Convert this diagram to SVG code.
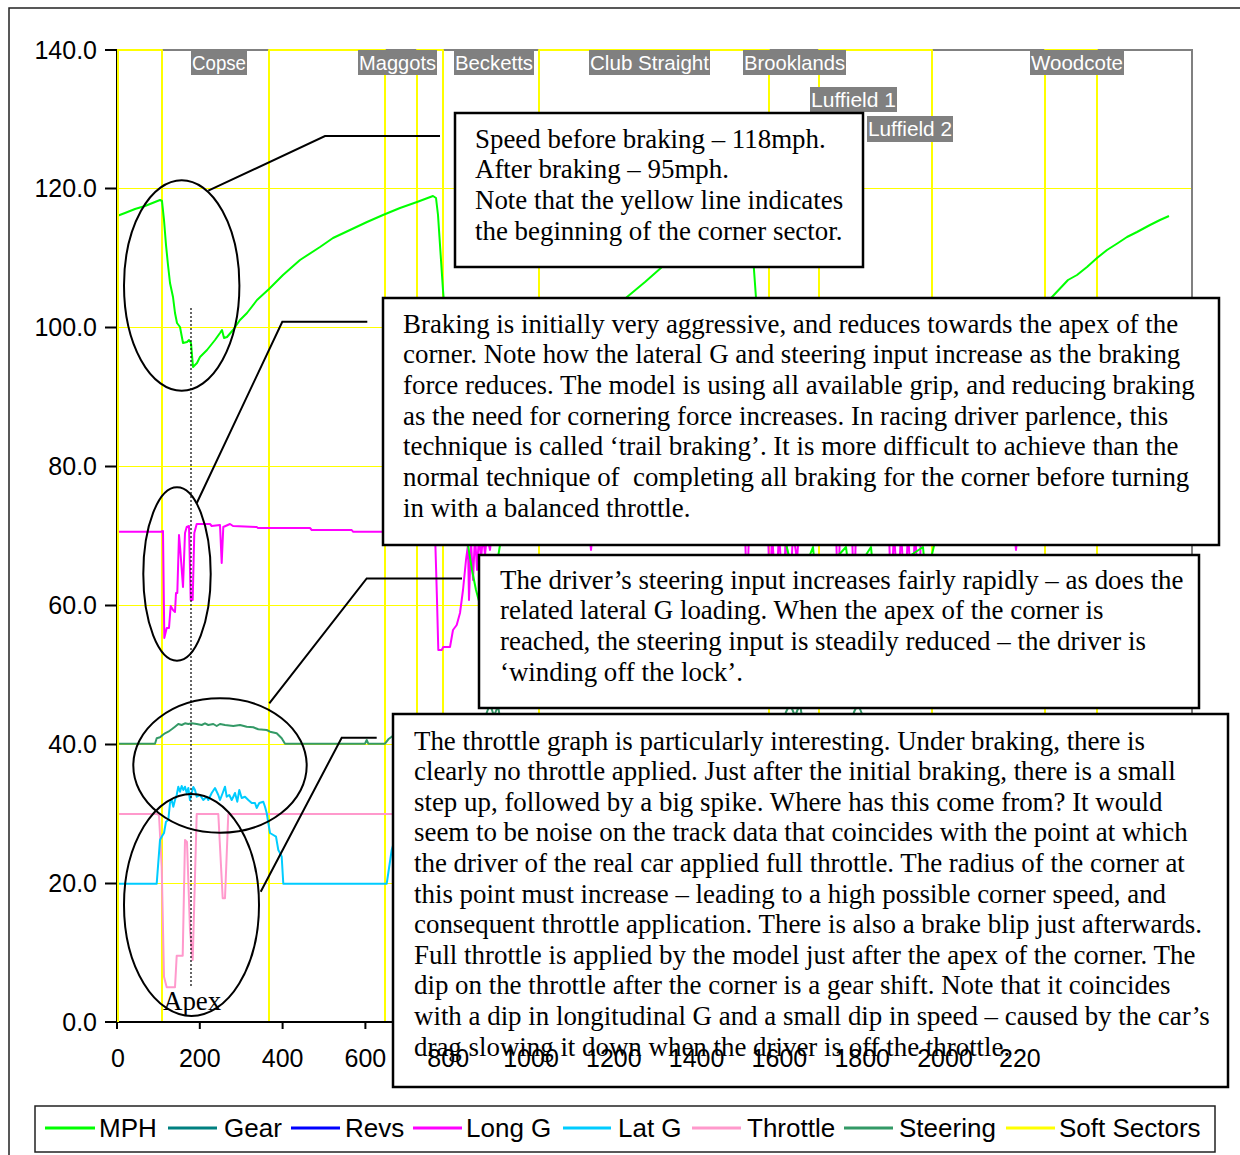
<svg xmlns="http://www.w3.org/2000/svg" width="1240" height="1155" viewBox="0 0 1240 1155">
<style>
.ax{font-family:"Liberation Sans",Arial,sans-serif;font-size:25px;fill:#000}
.lg{font-family:"Liberation Sans",Arial,sans-serif;font-size:26px;fill:#000}
.tb{font-family:"Liberation Serif","Times New Roman",serif;font-size:26.9px;fill:#000}
.lab{font-family:"Liberation Sans",Arial,sans-serif;font-size:21px;fill:#fff}
.grid{stroke:#ffff00;stroke-width:1;fill:none}
.ser{fill:none;stroke-width:2;stroke-linejoin:round}
.call{fill:none;stroke:#000;stroke-width:2}
.box{fill:#fff;stroke:#000;stroke-width:2.5}
.lbox{fill:#808080}
</style>
<rect x="0" y="0" width="1240" height="1155" fill="#fff"/>
<rect x="9" y="8" width="1250" height="1170" fill="none" stroke="#222" stroke-width="1.5"/>

<g id="plot">
<g id="gridlines">
<line class="grid" x1="117" y1="188.5" x2="1192" y2="188.5"/>
<line class="grid" x1="117" y1="327.5" x2="1192" y2="327.5"/>
<line class="grid" x1="117" y1="466.5" x2="1192" y2="466.5"/>
<line class="grid" x1="117" y1="605.5" x2="1192" y2="605.5"/>
<line class="grid" x1="117" y1="744.5" x2="1192" y2="744.5"/>
<line class="grid" x1="117" y1="883.5" x2="1192" y2="883.5"/>
</g>
<path d="M117 50 H1192 V1022" fill="none" stroke="#808080" stroke-width="2"/>
<path id="softsectors" class="ser" stroke="#ffff00" stroke-width="2.5" stroke-linejoin="miter" d="M117 1022 V50 H162 V1022 H269 V50 H385 V1022 H417 V50 H443 V1022 H539 V50 H769 V1022 H819 V50 H932 V1022 H1045 V50 H1097 V1022 H1192"/>
<path id="throttle" class="ser" stroke="#ff99cc" d="M118 814 H157 L159 815 L161.7 866.7 L164 976.7 L166.7 987.3 H175 L176.7 955.7 H182.7 L185 840 L187 842 L190 930 L192.7 960 L196.7 814 H218.3 L222.7 898.3 H225 L228.3 814 H400"/>
<path id="steering" class="ser" stroke="#339966" d="M118 743.7 H155 L156.7 738.3 L160 737.3 L162.7 735 L165 733.3 L168.3 731.7 L171.7 729.3 L175 726.7 L178.3 724 L181.7 725 L185 723.3 L188.3 724 L191.7 723.3 L196.7 724 L201.7 725 L205 723.3 L208.3 725 L213.3 724 L216.7 726 L220 724 L225 725 L233.3 726 L240 725 L246.7 726.7 L253.3 727.3 L258.3 729.3 L266.7 730 L270 731.7 L276.7 733.3 L281.7 738.3 L285 743.7 H365 L366.7 740 L368.3 743.7 H385 L388.3 739.3 L391.7 736.7 L400 733 L480 730 L487 712 L490 704 L494 716 L498 706 L502 730 L780 730 L786 712 L790 704 L795 716 L800 704 L804 730 L850 730 L854 712 L858 704 L862 714 L866 730 H1000"/>
<path id="latg" class="ser" stroke="#00ccff" d="M118 883.7 H156.7 L160 840 L161.7 836.7 L164 833 L166 821.7 L168.3 820 L170 803 L171.7 800 L173.3 806.7 L175 800 L176.7 795 L178.3 786.7 L180 791.7 L181.7 786 L183.3 790 L185 786.7 L186.7 793 L188.3 788 L190 800 L191.7 793 L193.3 787 L195 790 L196.7 796.7 L200 795 L203.3 800 L206.7 796.7 L208.3 800 L211.7 793 L215 788 L218.3 795 L220 800 L222.7 793 L225 786.7 L226.7 796.7 L229.3 795 L231.7 800 L233.3 796.7 L235 793 L237.3 801.7 L239.3 790 L241.7 798 L245 796.7 L248.3 800 L251.7 803 L255 803 L256.7 808 L259.3 803 L263.3 801.7 L265 806.7 L266.7 813 L270 833 L273.3 835 L276 836.7 L278.3 850 L280 853 L281.7 856.7 L283.3 883.7 H386.7 L388.3 873 L391.7 850 L396 835 L402 825"/>
<path id="longg" class="ser" stroke="#ff00ff" d="M118 531.7 H161 L163 531 L164.3 638 L166.7 628 L169 628 L170.7 606 L173 610 L175 612 L176 593 L177.3 593 L179 535 L180.3 550 L183 587 L185 533 L186.7 527 L189 526 L190.7 600 L192.7 600 L194.3 533 L196.7 524 H210 L211.7 526 L220 525 L221.7 563 L223.3 527 L230 524 L233 526 L256.7 527 L258 528 H310 L311.7 530 H351.7 L353 531.7 H435 L437 600 L438.3 650 L441.7 650 L443.3 647 L450 647 L453 630 L456.7 625 L460 613 L463 590 L466 560 L468 545 L469 600 L471 540 L473 580 L475 535 L477 570 L479 535 L481 560 L483 535 L485 555 L487 535 L490 550 L492 531 H589 L591 550 L593 531 H745 L747 600 L749 531 H768 L770 600 L772 531 L776 600 L779 531 L783 600 L786 531 L790 600 L793 531 L797 560 L799 531 H836 L838 600 L840 531 H852 L854 600 L856 531 H889 L891 600 L894 531 L898 600 L901 531 L905 600 L908 531 L912 600 L915 531 L919 600 L921 531 H1014 L1016 550 L1018 531 H1100"/>
<path id="mph" class="ser" stroke="#00ff00" d="M117 216 L125 213 L135 209 L145 206 L155 202 L160 200 L162 201 L164 220 L166 245 L168 265 L170 283 L173 297 L175 313 L177 323 L180 327 L183 343 L187 342 L189 340 L191 343 L193 367 L197 363 L200 357 L207 350 L215 340 L220 333 L222 330 L224 338 L227 337 L233 330 L240 320 L247 313 L257 300 L269 289 L283 275 L300 260 L320 247 L333 238 L350 230 L367 222 L383 215 L400 208 L417 202 L433 196 L436 198 L438 215 L440 245 L443 290 L450 380 L458 450 L465 520 L468 545 L472 570 L476 590 L480 605 L487 612 L492 600 L496 570 L500 545 L510 500 L530 440 L560 380 L595 330 L627 297 L645 282 L662 267 L690 255 L720 245 L750 238 L752 240 L754 270 L756 298 L760 400 L770 480 L790 560 L800 580 L813 547 L816 580 L846 547 L850 580 L871 547 L874 580 L923 547 L926 580 L940 520 L960 470 L990 400 L1020 340 L1045 305 L1052 297 L1068 280 L1077 275 L1087 267 L1097 258 L1107 250 L1118 243 L1127 237 L1137 232 L1150 225 L1160 220 L1169 216"/>
<g id="axes" stroke="#000" stroke-width="2" fill="none">
<path d="M117 50 V1022 H1192"/>
<path d="M105 50 H117 M105 188.5 H117 M105 327.5 H117 M105 466.5 H117 M105 605.5 H117 M105 744.5 H117 M105 883.5 H117 M105 1022 H117"/>
<path d="M117 1022 V1029 M199.8 1022 V1029 M282.6 1022 V1029 M365.4 1022 V1029"/>
</g>
<line x1="118" y1="50" x2="118" y2="1022" stroke="#ffff00" stroke-width="2"/>
<g id="yaxis-labels" class="ax" text-anchor="end">
<text x="97" y="59">140.0</text>
<text x="97" y="197">120.0</text>
<text x="97" y="336">100.0</text>
<text x="97" y="475">80.0</text>
<text x="97" y="614">60.0</text>
<text x="97" y="753">40.0</text>
<text x="97" y="892">20.0</text>
<text x="97" y="1031">0.0</text>
</g>
</g>

<g id="sector-labels">
<g id="lbl-copse"><rect class="lbox" x="191" y="50" width="56" height="25"/><text class="lab" x="192" y="70" textLength="54" lengthAdjust="spacingAndGlyphs">Copse</text></g>
<g id="lbl-maggots"><rect class="lbox" x="358" y="50" width="79" height="25"/><text class="lab" x="359" y="70" textLength="77" lengthAdjust="spacingAndGlyphs">Maggots</text></g>
<g id="lbl-becketts"><rect class="lbox" x="454" y="50" width="80" height="25"/><text class="lab" x="455" y="70" textLength="78" lengthAdjust="spacingAndGlyphs">Becketts</text></g>
<g id="lbl-club"><rect class="lbox" x="589" y="50" width="121" height="25"/><text class="lab" x="590" y="70" textLength="119" lengthAdjust="spacingAndGlyphs">Club Straight</text></g>
<g id="lbl-brooklands"><rect class="lbox" x="743" y="50" width="103" height="25"/><text class="lab" x="744" y="70" textLength="101" lengthAdjust="spacingAndGlyphs">Brooklands</text></g>
<g id="lbl-woodcote"><rect class="lbox" x="1030" y="50" width="94" height="25"/><text class="lab" x="1031" y="70" textLength="92" lengthAdjust="spacingAndGlyphs">Woodcote</text></g>
<g id="lbl-luffield1"><rect class="lbox" x="810" y="87" width="87" height="25"/><text class="lab" x="811" y="107" textLength="85" lengthAdjust="spacingAndGlyphs">Luffield 1</text></g>
<g id="lbl-luffield2"><rect class="lbox" x="867" y="116" width="86" height="26"/><text class="lab" x="868" y="136" textLength="84" lengthAdjust="spacingAndGlyphs">Luffield 2</text></g>
</g>

<g id="connectors">
<ellipse class="call" cx="181.7" cy="285.5" rx="57.7" ry="105.3"/>
<ellipse class="call" cx="177" cy="574" rx="33.7" ry="86.7"/>
<ellipse class="call" cx="220" cy="765.5" rx="86.7" ry="67.2"/>
<ellipse class="call" cx="191.5" cy="905" rx="67.5" ry="111"/>
<path class="call" d="M208.3 190.7 L325 136 H440"/>
<path class="call" d="M196.7 503.3 L282.3 321.7 H367.3"/>
<path class="call" d="M269.3 703.3 L366.7 578.5 H462"/>
<path class="call" d="M260.7 891.7 L341.7 737.7 H376.7"/>
<line x1="191" y1="308" x2="191" y2="988" stroke="#000" stroke-width="1.2" stroke-dasharray="2 2"/>
</g>
<text id="apex" class="tb" x="163" y="1010">Apex</text>

<g id="note-speed">
<rect class="box" x="455" y="113" width="408" height="154"/>
<text class="tb" x="475" y="147.7">Speed before braking – 118mph.</text>
<text class="tb" x="475" y="178.4">After braking – 95mph.</text>
<text class="tb" x="475" y="209.1">Note that the yellow line indicates</text>
<text class="tb" x="475" y="239.8">the beginning of the corner sector.</text>
</g>
<g id="note-braking">
<rect class="box" x="383" y="298" width="836" height="247"/>
<text class="tb" x="403" y="332.5">Braking is initially very aggressive, and reduces towards the apex of the</text>
<text class="tb" x="403" y="363.2">corner. Note how the lateral G and steering input increase as the braking</text>
<text class="tb" x="403" y="393.9">force reduces. The model is using all available grip, and reducing braking</text>
<text class="tb" x="403" y="424.6">as the need for cornering force increases. In racing driver parlence, this</text>
<text class="tb" x="403" y="455.3">technique is called ‘trail braking’. It is more difficult to achieve than the</text>
<text class="tb" x="403" y="486">normal technique of&#160; completing all braking for the corner before turning</text>
<text class="tb" x="403" y="516.7">in with a balanced throttle.</text>
</g>
<g id="note-steering">
<rect class="box" x="479" y="555" width="720" height="153"/>
<text class="tb" x="500" y="588.5">The driver’s steering input increases fairly rapidly – as does the</text>
<text class="tb" x="500" y="619.2">related lateral G loading. When the apex of the corner is</text>
<text class="tb" x="500" y="649.9">reached, the steering input is steadily reduced – the driver is</text>
<text class="tb" x="500" y="680.6">‘winding off the lock’.</text>
</g>
<g id="note-throttle">
<rect class="box" x="393" y="714" width="835" height="373"/>
<text class="tb" x="414" y="749.5">The throttle graph is particularly interesting. Under braking, there is</text>
<text class="tb" x="414" y="780.1">clearly no throttle applied. Just after the initial braking, there is a small</text>
<text class="tb" x="414" y="810.7">step up, followed by a big spike. Where has this come from? It would</text>
<text class="tb" x="414" y="841.3">seem to be noise on the track data that coincides with the point at which</text>
<text class="tb" x="414" y="871.9">the driver of the real car applied full throttle. The radius of the corner at</text>
<text class="tb" x="414" y="902.5">this point must increase – leading to a high possible corner speed, and</text>
<text class="tb" x="414" y="933.1">consequent throttle application. There is also a brake blip just afterwards.</text>
<text class="tb" x="414" y="963.7">Full throttle is applied by the model just after the apex of the corner. The</text>
<text class="tb" x="414" y="994.3">dip on the throttle after the corner is a gear shift. Note that it coincides</text>
<text class="tb" x="414" y="1024.9">with a dip in longitudinal G and a small dip in speed – caused by the car’s</text>
<text class="tb" x="414" y="1055.5">drag slowing it down when the driver is off the throttle.</text>
</g>

<g id="xaxis-labels" class="ax" text-anchor="middle">
<text x="118" y="1067">0</text>
<text x="199.8" y="1067">200</text>
<text x="282.6" y="1067">400</text>
<text x="365.4" y="1067">600</text>
<text x="448.2" y="1067">800</text>
<text x="531" y="1067">1000</text>
<text x="613.8" y="1067">1200</text>
<text x="696.6" y="1067">1400</text>
<text x="779.4" y="1067">1600</text>
<text x="862.2" y="1067">1800</text>
<text x="945" y="1067">2000</text>
<text x="999" y="1067" text-anchor="start">220</text>
</g>

<g id="legend">
<rect x="35" y="1106" width="1180" height="46" fill="#fff" stroke="#222" stroke-width="1.5"/>
<g stroke-width="3">
<line x1="45" y1="1128" x2="95" y2="1128" stroke="#00ff00"/>
<line x1="168" y1="1128" x2="217" y2="1128" stroke="#008080"/>
<line x1="291" y1="1128" x2="340" y2="1128" stroke="#0000ff"/>
<line x1="413" y1="1128" x2="462" y2="1128" stroke="#ff00ff"/>
<line x1="563" y1="1128" x2="611" y2="1128" stroke="#00ccff"/>
<line x1="692" y1="1128" x2="741" y2="1128" stroke="#ff99cc"/>
<line x1="844" y1="1128" x2="893" y2="1128" stroke="#339966"/>
<line x1="1006" y1="1128" x2="1055" y2="1128" stroke="#ffff00"/>
</g>
<g class="lg">
<text x="99" y="1137">MPH</text>
<text x="224" y="1137">Gear</text>
<text x="345" y="1137">Revs</text>
<text x="466" y="1137">Long G</text>
<text x="618" y="1137">Lat G</text>
<text x="747" y="1137">Throttle</text>
<text x="899" y="1137">Steering</text>
<text x="1059" y="1137">Soft Sectors</text>
</g>
</g>
</svg>
